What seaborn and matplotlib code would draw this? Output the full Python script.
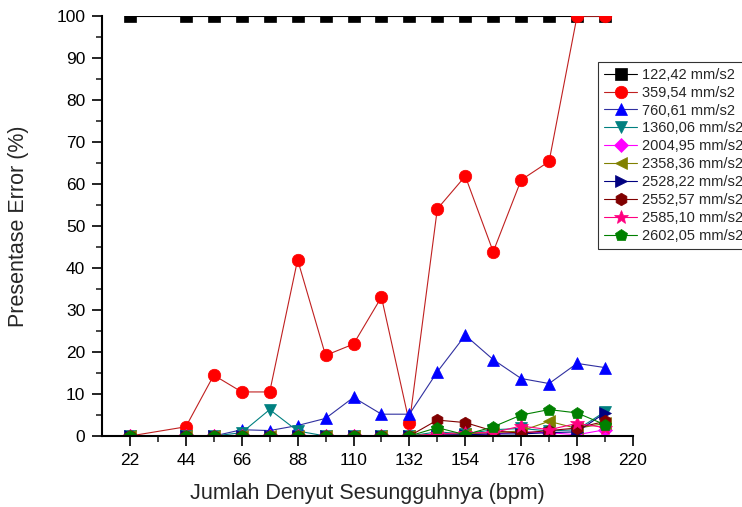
import matplotlib
matplotlib.use("Agg")
import matplotlib.pyplot as plt
from matplotlib.ticker import MultipleLocator, FixedLocator
import seaborn as sns
import pandas as pd

# ---- data ----
bpm = [22, 44, 55, 66, 77, 88, 99, 110, 121, 132, 143, 154, 165, 176, 187, 198, 209]

labels = ["122,42 mm/s2", "359,54 mm/s2", "760,61 mm/s2", "1360,06 mm/s2",
          "2004,95 mm/s2", "2358,36 mm/s2", "2528,22 mm/s2", "2552,57 mm/s2",
          "2585,10 mm/s2", "2602,05 mm/s2"]

s_122 = [100] * 17
s_359 = [0, 2.2, 14.5, 10.5, 10.5, 42, 19.2, 21.9, 33.1, 3.1, 54.1, 61.9, 43.9, 61, 65.4, 100, 100]
s_760 = [0, 0, 0, 1.5, 1.3, 2.5, 4.2, 9.2, 5.2, 5.2, 15.3, 24, 18.2, 13.7, 12.5, 17.3, 16.3]
s_1360 = [0, 0, 0, 0.8, 6.3, 1.2, 0, 0, 0, 0, 1.0, 0.5, 1.5, 1.8, 1.2, 1.5, 5.8]
s_2004 = [0, 0, 0, 0, 0, 0, 0, 0, 0, 0, 0.3, 0.3, 0.5, 1.0, 0.8, 0.3, 1.5]
s_2358 = [0, 0, 0, 0, 0, 0, 0, 0, 0, 0, 0.5, 0.5, 0.8, 1.2, 3.5, 1.8, 3.0]
s_2528 = [0, 0, 0, 0, 0, 0, 0, 0, 0, 0, 0.2, 0.3, 0.5, 0.5, 0.8, 1.0, 5.5]
s_2552 = [0, 0, 0, 0, 0, 0, 0, 0, 0, 0, 3.8, 3.2, 1.2, 0.7, 1.3, 1.9, 3.5]
s_2585 = [0, 0, 0, 0, 0, 0, 0, 0, 0, 0, 0.5, 0.8, 0.8, 2.4, 1.5, 3.0, 2.0]
s_2602 = [0, 0, 0, 0, 0, 0, 0, 0, 0, 0, 2.0, 0.3, 2.2, 5.0, 6.3, 5.5, 2.7]

series = [s_122, s_359, s_760, s_1360, s_2004, s_2358, s_2528, s_2552, s_2585, s_2602]
colors = ["#000000", "#FF0000", "#0000FF", "#008080", "#FF00FF",
          "#808000", "#000080", "#800000", "#FF0080", "#008000"]
line_colors = ["#000000", "#C02020", "#3030A0", "#008080", "#FF00FF",
               "#808000", "#000080", "#800000", "#FF0080", "#008000"]
markers = ["s", "o", "^", "v", "D", "<", ">", "h", "*", "p"]
msizes = [8, 9, 9, 9, 7, 9, 9, 9, 10, 9]

x_ticks = [22, 44, 66, 88, 110, 132, 154, 176, 198, 220]
y_ticks = [0, 10, 20, 30, 40, 50, 60, 70, 80, 90, 100]

sns.set_style("ticks")
plt.rcParams["font.family"] = ["Liberation Sans", "DejaVu Sans"]

fig = plt.figure(figsize=(7.42, 5.07), dpi=100)
ax = fig.add_axes([0.1375, 0.14, 0.7155, 0.828])

for vals, lab, c, lc, m, ms in zip(series, labels, colors, line_colors, markers, msizes):
    df = pd.DataFrame({"bpm": bpm, "err": vals})
    sns.lineplot(data=df, x="bpm", y="err", ax=ax, color=lc, linewidth=0.8,
                 marker=m, markersize=ms, markerfacecolor=c, markeredgecolor=c,
                 markeredgewidth=0.5, label=lab, legend=False)

for ln in ax.lines:
    ln.set_clip_on(True)
    ln.set_clip_path(ax.patch)

ax.set_xlim(11, 220)
ax.set_ylim(0, 100)
ax.xaxis.set_major_locator(FixedLocator(x_ticks))
ax.xaxis.set_minor_locator(FixedLocator([33, 55, 77, 99, 121, 143, 165, 187, 209]))
ax.yaxis.set_major_locator(FixedLocator(y_ticks))
ax.yaxis.set_minor_locator(MultipleLocator(5))
ax.tick_params(axis="both", which="major", direction="out", length=7, width=1.2,
               labelsize=12.5, colors="black", pad=5)
ax.tick_params(axis="both", which="minor", direction="out", length=4, width=1.2)
for sp in ["top", "right"]:
    ax.spines[sp].set_visible(False)
for sp in ["left", "bottom"]:
    ax.spines[sp].set_linewidth(1.5)
    ax.spines[sp].set_color("black")
    ax.spines[sp].set_zorder(5)

ax.set_xlabel("Jumlah Denyut Sesungguhnya (bpm)", fontsize=15.5, labelpad=11)
ax.set_ylabel("Presentase Error (%)", fontsize=15.5, labelpad=20)

handles, labs = ax.get_legend_handles_labels()
leg = fig.legend(handles, labs, loc="upper left", bbox_to_anchor=(0.806, 0.878),
                 fontsize=10.5, frameon=True, fancybox=False, labelspacing=0.27,
                 handlelength=2.3, handletextpad=0.3, borderpad=0.4,
                 borderaxespad=0, markerscale=1.0)
leg.get_frame().set_edgecolor("black")
leg.get_frame().set_linewidth(0.8)

fig.savefig("out.png", dpi=100)
